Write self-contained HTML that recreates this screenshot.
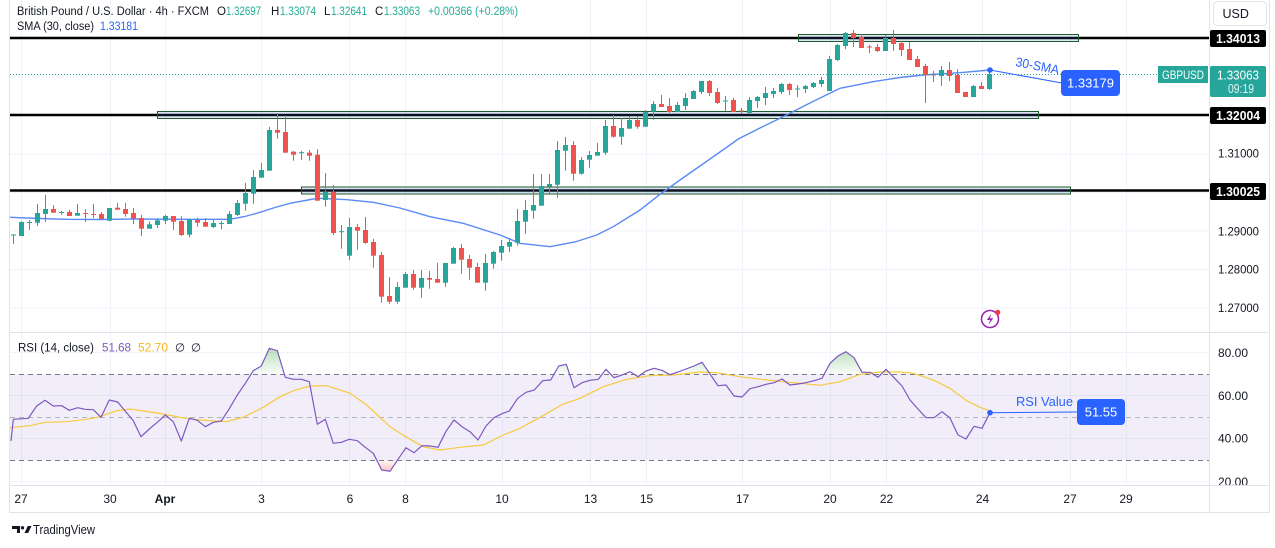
<!DOCTYPE html>
<html><head><meta charset="utf-8"><style>
html,body{margin:0;padding:0;background:#fff;overflow:hidden;}
svg{display:block;font-family:"Liberation Sans",Arial,sans-serif;}
</style></head><body>
<svg width="1275" height="548" viewBox="0 0 1275 548" xmlns="http://www.w3.org/2000/svg">
<defs>
<clipPath id="mainClip"><rect x="10" y="0" width="1199" height="332"/></clipPath>
<clipPath id="rsiClip"><rect x="10" y="333" width="1199" height="152"/></clipPath>
<clipPath id="rsiAxClip"><rect x="1210" y="333" width="60" height="152"/></clipPath>
<linearGradient id="gG" x1="0" y1="345" x2="0" y2="374" gradientUnits="userSpaceOnUse"><stop offset="0" stop-color="#4caf50" stop-opacity="0.45"/><stop offset="1" stop-color="#4caf50" stop-opacity="0.03"/></linearGradient>
<linearGradient id="gR" x1="0" y1="472" x2="0" y2="460" gradientUnits="userSpaceOnUse"><stop offset="0" stop-color="#f44336" stop-opacity="0.35"/><stop offset="1" stop-color="#f44336" stop-opacity="0.03"/></linearGradient>
</defs>
<rect width="1275" height="548" fill="#fff"/>

<!-- vertical grid -->
<g stroke="#f0f3fa" stroke-width="1">
<path d="M21.5 0V485M110.5 0V485M165.5 0V485M261.5 0V485M349.5 0V485M405.5 0V485M502.5 0V485M590.5 0V485M646.5 0V485M742.5 0V485M830.5 0V485M886.5 0V485M982.5 0V485M1070.5 0V485M1126.5 0V485"/>
<path d="M10 38.5H1209M10 77H1209M10 115.5H1209M10 154H1209M10 192.5H1209M10 231H1209M10 269.5H1209M10 308H1209"/>
<path d="M10 352.5H1209M10 395.5H1209M10 438.5H1209M10 481.5H1209"/>
</g>

<!-- main pane -->
<g clip-path="url(#mainClip)">
<!-- black horizontal levels -->
<g stroke="#000" stroke-width="2.4">
<path d="M10 38H1209M10 115H1209M10 190.5H1209"/>
</g>
<!-- zones -->
<g fill="rgba(66,110,200,0.17)" stroke="#1e5b2a" stroke-width="1">
<rect x="798.5" y="34.5" width="280" height="7"/>
<rect x="157.5" y="111.5" width="881" height="7"/>
<rect x="301.5" y="187" width="769" height="7"/>
</g>
<!-- SMA -->
<polyline fill="none" stroke="#5a8af5" stroke-width="1.4" points="10,217.3 40,218.5 66.7,219.3 100,219.5 133.3,219 180,219.3 230,219.3 245,216.5 260,212.3 275,207.5 290,203.3 313.3,199 320,198.3 347,199.7 373.3,202.3 400,208 430,216.7 463.3,223.3 500,235 520,243.3 550,246.7 575,242 596.7,235 613.3,226.7 640,210 660,194.3 680,180 700,166 720,152 738.3,139 760,128 780,118.3 810,103 840,88.3 873,81.7 900,77.5 923,75 960,72.7 990,70"/>

<!-- green candles -->
<g fill="#26a69a" stroke="none">
<path stroke="#26a69a" stroke-width="1" fill="none" d="M13.5 234.3V244M21.5 221.3V236M29.5 220V230M37.5 204V226M45.5 195V222M61.5 210.7V214.7M77.5 204V215.7M109.5 208V221.3M149.5 221.3V228.7M157.5 218.3V228M165.5 215V224M189.5 218.7V237.3M213.5 219V228M221.5 221.3V229.3M229.5 211V224M237.5 200V216M245.5 183V210.7M253.5 170V203.7M261.5 163V177.7M269.5 127V170.7M301.5 151V160M325.5 173V206.7M341.5 225V248.7M349.5 218V260M397.5 282V303.7M405.5 272V287.7M421.5 270V297.7M445.5 263V286.7M453.5 247V263.7M485.5 254V290.7M493.5 251V268.7M501.5 240V260.7M509.5 239V252M517.5 209V245.7M525.5 200V233.7M533.5 174V218.7M541.5 174V205.7M549.5 174V193.7M557.5 141V197.7M565.5 137V170.7M581.5 157V174.7M589.5 151V167.7M597.5 143V155.7M605.5 120V154.7M621.5 118V144.7M629.5 116V128.7M645.5 110V126.7M653.5 101V120M677.5 102V112M685.5 93V110M693.5 90V99M701.5 81V94M725.5 96V111M749.5 97V114M757.5 96V108M765.5 87V105M773.5 88V98M781.5 83V94M797.5 85V97M805.5 85V93M813.5 82V88M821.5 77V87M829.5 56V91M837.5 44V61M845.5 32V49M885.5 35V51M941.5 66V86M973.5 85V97M989.5 70V90"/>
<rect x="11" y="234.5" width="5" height="1"/>
<rect x="19" y="222" width="5" height="14"/>
<rect x="27" y="222" width="5" height="1"/>
<rect x="35" y="213" width="5" height="9.7"/>
<rect x="43" y="209" width="5" height="5"/>
<rect x="59" y="212" width="5" height="1"/>
<rect x="75" y="213" width="5" height="2.7"/>
<rect x="107" y="208" width="5" height="12.7"/>
<rect x="147" y="224.3" width="5" height="4.4"/>
<rect x="155" y="220.3" width="5" height="4.7"/>
<rect x="163" y="216" width="5" height="4.7"/>
<rect x="187" y="219.3" width="5" height="15.4"/>
<rect x="211" y="223" width="5" height="4"/>
<rect x="219" y="223" width="5" height="1"/>
<rect x="227" y="214" width="5" height="10"/>
<rect x="235" y="203" width="5" height="12"/>
<rect x="243" y="193" width="5" height="10.7"/>
<rect x="251" y="177" width="5" height="16.7"/>
<rect x="259" y="170" width="5" height="7.7"/>
<rect x="267" y="130" width="5" height="40.7"/>
<rect x="299" y="152.2" width="5" height="1"/>
<rect x="323" y="192" width="5" height="8"/>
<rect x="339" y="231.2" width="5" height="1"/>
<rect x="347" y="227" width="5" height="28.7"/>
<rect x="395" y="287" width="5" height="14.7"/>
<rect x="403" y="274" width="5" height="13.7"/>
<rect x="419" y="278" width="5" height="9.7"/>
<rect x="443" y="263" width="5" height="19.7"/>
<rect x="451" y="248" width="5" height="15.7"/>
<rect x="483" y="263" width="5" height="19.7"/>
<rect x="491" y="252" width="5" height="11.7"/>
<rect x="499" y="246" width="5" height="6.7"/>
<rect x="507" y="242" width="5" height="4.7"/>
<rect x="515" y="221" width="5" height="21.7"/>
<rect x="523" y="210" width="5" height="11.7"/>
<rect x="531" y="205" width="5" height="5.7"/>
<rect x="539" y="186" width="5" height="19.7"/>
<rect x="547" y="184" width="5" height="2.7"/>
<rect x="555" y="150" width="5" height="34.7"/>
<rect x="563" y="145" width="5" height="5.7"/>
<rect x="579" y="160" width="5" height="13.7"/>
<rect x="587" y="155" width="5" height="4.7"/>
<rect x="595" y="152" width="5" height="3.7"/>
<rect x="603" y="126" width="5" height="26.7"/>
<rect x="619" y="128" width="5" height="8.7"/>
<rect x="627" y="120" width="5" height="8.7"/>
<rect x="643" y="112" width="5" height="14.7"/>
<rect x="651" y="104" width="5" height="7.7"/>
<rect x="675" y="105" width="5" height="7"/>
<rect x="683" y="98" width="5" height="8"/>
<rect x="691" y="91" width="5" height="8"/>
<rect x="699" y="81" width="5" height="11"/>
<rect x="723" y="100.5" width="5" height="1"/>
<rect x="747" y="100" width="5" height="13"/>
<rect x="755" y="97" width="5" height="4"/>
<rect x="763" y="93" width="5" height="5"/>
<rect x="771" y="91" width="5" height="3"/>
<rect x="779" y="84" width="5" height="8"/>
<rect x="795" y="88.5" width="5" height="1"/>
<rect x="803" y="86" width="5" height="3"/>
<rect x="811" y="83" width="5" height="4"/>
<rect x="819" y="80" width="5" height="4"/>
<rect x="827" y="59" width="5" height="32"/>
<rect x="835" y="45" width="5" height="15"/>
<rect x="843" y="33" width="5" height="13"/>
<rect x="883" y="38" width="5" height="13"/>
<rect x="939" y="70" width="5" height="6"/>
<rect x="971" y="86" width="5" height="11"/>
<rect x="987" y="74" width="5" height="15"/>
</g>

<!-- red candles -->
<g fill="#ef5350" stroke="none">
<path stroke="#ef5350" stroke-width="1" fill="none" d="M53.5 205V212.7M69.5 210V216M85.5 209.3V222M93.5 204V218.3M101.5 212V219M117.5 203V209.7M125.5 203V216.7M133.5 208V224M141.5 215V236M173.5 216V230M181.5 216.3V236M197.5 217.7V226.7M205.5 218V226.7M277.5 113V138.7M285.5 117V152.7M293.5 151V160.7M309.5 150V160.7M317.5 149V200.7M333.5 185V235M357.5 224V249.7M365.5 217V243.7M373.5 239V267.7M381.5 251.7V302.7M389.5 277V303.7M413.5 270V289.7M429.5 271V288.7M437.5 262.7V282.7M461.5 244V273.7M469.5 255V279.7M477.5 263V282.7M573.5 141V180.7M613.5 115V137.7M637.5 116V128.7M661.5 95V107M669.5 98V113M709.5 80V96M717.5 88V104M733.5 98V112M741.5 108V114M789.5 83V95M853.5 30V47M861.5 34V48M869.5 45V53M877.5 44V52M893.5 30V51M901.5 41V56M909.5 42V60M917.5 56V67M925.5 64V103M933.5 71V82M949.5 62V81M957.5 69V93M965.5 92V97M981.5 82V89"/>
<rect x="51" y="209" width="5" height="3.7"/>
<rect x="67" y="212" width="5" height="4"/>
<rect x="83" y="213" width="5" height="1"/>
<rect x="91" y="214" width="5" height="1"/>
<rect x="99" y="214" width="5" height="5"/>
<rect x="115" y="207.7" width="5" height="2"/>
<rect x="123" y="209" width="5" height="5"/>
<rect x="131" y="213" width="5" height="5.7"/>
<rect x="139" y="218" width="5" height="10.7"/>
<rect x="171" y="216" width="5" height="5.7"/>
<rect x="179" y="221" width="5" height="14"/>
<rect x="195" y="220" width="5" height="2.7"/>
<rect x="203" y="222" width="5" height="4.7"/>
<rect x="275" y="130" width="5" height="2.7"/>
<rect x="283" y="132" width="5" height="20.7"/>
<rect x="291" y="151.7" width="5" height="3"/>
<rect x="307" y="152.7" width="5" height="3"/>
<rect x="315" y="154.7" width="5" height="46"/>
<rect x="331" y="191.7" width="5" height="41.3"/>
<rect x="355" y="227" width="5" height="3.7"/>
<rect x="363" y="230" width="5" height="13"/>
<rect x="371" y="242" width="5" height="13.7"/>
<rect x="379" y="255" width="5" height="41.7"/>
<rect x="387" y="296" width="5" height="5.7"/>
<rect x="411" y="274" width="5" height="13.7"/>
<rect x="427" y="278" width="5" height="1.7"/>
<rect x="435" y="279" width="5" height="3.7"/>
<rect x="459" y="248" width="5" height="11.7"/>
<rect x="467" y="259" width="5" height="8.7"/>
<rect x="475" y="267" width="5" height="15.7"/>
<rect x="571" y="145" width="5" height="28.7"/>
<rect x="611" y="126" width="5" height="10.7"/>
<rect x="635" y="120" width="5" height="6.7"/>
<rect x="659" y="104" width="5" height="3"/>
<rect x="667" y="106" width="5" height="6"/>
<rect x="707" y="81" width="5" height="12"/>
<rect x="715" y="92" width="5" height="11"/>
<rect x="731" y="100" width="5" height="12"/>
<rect x="739" y="110.5" width="5" height="1"/>
<rect x="787" y="84" width="5" height="6"/>
<rect x="851" y="33" width="5" height="5"/>
<rect x="859" y="37" width="5" height="11"/>
<rect x="867" y="46.5" width="5" height="1"/>
<rect x="875" y="47" width="5" height="4"/>
<rect x="891" y="38" width="5" height="6"/>
<rect x="899" y="43" width="5" height="7"/>
<rect x="907" y="49" width="5" height="11"/>
<rect x="915" y="59" width="5" height="8"/>
<rect x="923" y="66" width="5" height="9"/>
<rect x="931" y="74.5" width="5" height="1"/>
<rect x="947" y="70" width="5" height="6"/>
<rect x="955" y="75" width="5" height="18"/>
<rect x="963" y="92" width="5" height="5"/>
<rect x="979" y="86" width="5" height="3"/>
</g>

<!-- current price dotted line -->
<path d="M10 74.5H1158" stroke="#26a69a" stroke-width="1" stroke-dasharray="1 2"/>

<!-- SMA annotation -->
<circle cx="990" cy="70" r="2.8" fill="#2962ff"/>
<path d="M990 70L1062 83" stroke="#2962ff" stroke-width="1"/>
<text x="1015" y="66" font-size="13" fill="#2962ff" transform="rotate(11 1015 66)" textLength="44" lengthAdjust="spacingAndGlyphs">30-SMA</text>
<rect x="1061" y="70" width="59" height="26" rx="4" fill="#2962ff"/>
<text x="1090.5" y="87.5" font-size="13" fill="#fff" text-anchor="middle">1.33179</text>
<rect x="1158" y="66" width="50" height="17" fill="#26a69a"/>
<text x="1183" y="79" font-size="12" fill="#fff" text-anchor="middle" textLength="42" lengthAdjust="spacingAndGlyphs">GBPUSD</text>

<!-- lightning icon -->
<circle cx="990" cy="319" r="8.5" fill="#fff" stroke="#9c27b0" stroke-width="1.6"/>
<path d="M991.5 313.5L986.8 320H990.2L988.5 324.8L993.3 318.2H989.9Z" fill="#9c27b0"/>
<circle cx="997.7" cy="312.3" r="2.6" fill="#f23645"/>
</g>

<!-- RSI pane -->
<g clip-path="url(#rsiClip)">
<rect x="10" y="374" width="1199" height="86.5" fill="#7e57c2" fill-opacity="0.1"/>
<path d="M10 374.5H1209M10 460.5H1209" stroke="#787b86" stroke-width="1" stroke-dasharray="5 4"/>
<path d="M10 417.5H1209" stroke="#b2b5be" stroke-width="1" stroke-dasharray="5 4"/>
<g fill="url(#gG)">
<polygon points="249,374 253.3,370.7 261.3,366 269.3,348.3 277.3,350.7 284,374"/>
<polygon points="555,374 558.7,366 566.3,364.3 570,374"/>
<polygon points="604,374 606,369.3 610,374"/>
<polygon points="651,374 654,368.3 662,370.3 668,374"/>
<polygon points="683,374 686,369 694,366 702,362.3 710,374"/>
<polygon points="827,374 830,363.3 838,356 846,351.7 854,357.7 862,372.3 870,372.3 872,374"/>
<polygon points="882,374 886,369.3 890,374"/>
</g>
<polygon fill="url(#gR)" points="378,460 381.7,470 390,471.3 396,460"/>
<polyline fill="none" stroke="#f7c93e" stroke-width="1.2" points="10,427.7 30,425.7 45,422.3 66.7,421.7 86.7,419.3 100,416.7 116.7,410.7 130,409 143.3,411 163.3,414 180,417.3 200,420 226.7,421.7 243.3,417.3 263.3,407.3 280,396.7 293.3,390.7 310,386 326.7,385.7 350,393.3 366.7,405 390,426.7 406.7,437.3 423.3,446.7 440,450 460,447.3 483.3,445 503.3,435 520,428.3 540,417.3 563.3,404 580,398.3 603.3,386.7 626.7,379.3 650,375.7 673.3,375 700,372 716.7,372.7 740,376.7 766.7,380 793.3,382.7 820,385.3 840,381.7 860,374.3 880,372 900,372 913.3,373.3 933.3,380 950,388.3 966.7,400.7 980,407.3 989.3,410.7"/>
<polyline fill="none" stroke="#7e57c2" stroke-width="1.2" stroke-linejoin="round" points="11,441 13.3,419.3 28.3,418.3 36.7,406 45,400.3 53.3,406 61.7,405.7 69.3,410.3 77.7,407.7 85,409.3 93.3,409.7 101,417.3 109.3,400 117.7,402 125.7,411.7 133.3,420.7 141,436.7 149.3,429 157.3,422.3 165.3,415 173.3,421.7 181.3,441 189.3,418.3 197.3,420.3 205.3,426.7 213.3,422.3 221.3,421 229.3,408.7 237.3,395 245.3,383.3 253.3,370.7 261.3,366 269.3,348.3 277.3,350.7 285.3,377.3 293.3,379.3 301.3,379.3 309.3,381.7 317.3,424.3 325.3,419.3 333.3,443.3 341.3,442.3 349.3,439.3 357.3,440.7 365.3,447.3 373.3,453.3 381.7,470 390,471.3 398,459.3 406,447.7 414,452.7 422,445.7 430,446 438,447.3 446,431.3 454,420 462,426.7 470,431.7 478,440 486,426 494,417.7 502,413.7 509.3,411 517.7,398.3 526,392.3 534.3,390 542.7,380.7 550.7,380 558.7,366 566.3,364.3 574,387.7 582,382.7 590,380.3 598.3,379.3 606,369.3 614,377.7 622,375 630,371.7 638,376.7 646,371 654,368.3 662,370.3 670,374.7 678,372 686,369 694,366 702,362.3 710,374 718,385.7 726,385 734,396 742,397 750,388.7 758,386.7 766,384.3 774,382.7 782,379 790,385 798,384 806,382.7 814,380.7 822,378.3 830,363.3 838,356 846,351.7 854,357.7 862,372.3 870,372.3 878,377.3 886,369.3 894,377.7 902,386 910,400 918,409 926,417.7 934,417.7 942,411.7 950,418 958,435 966,439 974,426.3 982,428.3 990,412.7"/>
<circle cx="990" cy="412.7" r="2.8" fill="#2962ff"/>
<path d="M990 412.7L1077 412" stroke="#2962ff" stroke-width="1"/>
<text x="1016" y="406" font-size="13" fill="#2962ff" textLength="57" lengthAdjust="spacingAndGlyphs">RSI Value</text>
<rect x="1077" y="399" width="48" height="26" rx="4" fill="#2962ff"/>
<text x="1101" y="416.5" font-size="13" fill="#fff" text-anchor="middle">51.55</text>
</g>

<!-- borders -->
<g stroke="#e0e3eb" stroke-width="1" fill="none">
<path d="M9.5 0V512.5H1269.5V0"/>
<path d="M1209.5 0V512"/>
<path d="M10 332.5H1269"/>
<path d="M10 485.5H1269"/>
</g>

<!-- header -->
<g font-size="11.5" fill="#131722">
<text x="17" y="15" textLength="192" lengthAdjust="spacingAndGlyphs">British Pound / U.S. Dollar · 4h · FXCM</text>
<text x="217" y="15">O</text><text x="226" y="15" fill="#22ab94" textLength="35" lengthAdjust="spacingAndGlyphs">1.32697</text>
<text x="271" y="15">H</text><text x="280" y="15" fill="#22ab94" textLength="36" lengthAdjust="spacingAndGlyphs">1.33074</text>
<text x="324" y="15">L</text><text x="331" y="15" fill="#22ab94" textLength="36" lengthAdjust="spacingAndGlyphs">1.32641</text>
<text x="375" y="15">C</text><text x="384" y="15" fill="#22ab94" textLength="36" lengthAdjust="spacingAndGlyphs">1.33063</text>
<text x="428" y="15" fill="#22ab94" textLength="90" lengthAdjust="spacingAndGlyphs">+0.00366 (+0.28%)</text>
<text x="17" y="30" textLength="77" lengthAdjust="spacingAndGlyphs">SMA (30, close)</text>
<text x="100" y="30" fill="#2962ff" textLength="38" lengthAdjust="spacingAndGlyphs">1.33181</text>
<text x="18" y="351.5" textLength="76" lengthAdjust="spacingAndGlyphs">RSI (14, close)</text>
<text x="102" y="351.5" fill="#7e57c2" textLength="29" lengthAdjust="spacingAndGlyphs">51.68</text>
<text x="138" y="351.5" fill="#f5b81c" textLength="30" lengthAdjust="spacingAndGlyphs">52.70</text>
<text x="175" y="351.5">∅</text>
<text x="191" y="351.5">∅</text>
</g>

<!-- USD button -->
<rect x="1213.5" y="1.5" width="53" height="24" rx="4" fill="#fff" stroke="#e0e3eb"/>
<text x="1222.5" y="18" font-size="12.5" fill="#131722">USD</text>

<!-- price axis -->
<g font-size="12" fill="#131722">
<text x="1218" y="157.5" textLength="41" lengthAdjust="spacingAndGlyphs">1.31000</text>
<text x="1218" y="235.5" textLength="41" lengthAdjust="spacingAndGlyphs">1.29000</text>
<text x="1218" y="273.5" textLength="41" lengthAdjust="spacingAndGlyphs">1.28000</text>
<text x="1218" y="312" textLength="41" lengthAdjust="spacingAndGlyphs">1.27000</text>
</g>
<g clip-path="url(#rsiAxClip)" font-size="12" fill="#131722">
<text x="1218" y="357" textLength="30" lengthAdjust="spacingAndGlyphs">80.00</text>
<text x="1218" y="400" textLength="30" lengthAdjust="spacingAndGlyphs">60.00</text>
<text x="1218" y="442.5" textLength="30" lengthAdjust="spacingAndGlyphs">40.00</text>
<text x="1218" y="486" textLength="30" lengthAdjust="spacingAndGlyphs">20.00</text>
</g>
<rect x="1210" y="30" width="56" height="17" rx="2" fill="#000"/>
<text x="1238" y="43" font-size="12.5" font-weight="bold" fill="#fff" text-anchor="middle" textLength="44" lengthAdjust="spacingAndGlyphs">1.34013</text>
<rect x="1210" y="107" width="56" height="17" rx="2" fill="#000"/>
<text x="1238" y="120" font-size="12.5" font-weight="bold" fill="#fff" text-anchor="middle" textLength="44" lengthAdjust="spacingAndGlyphs">1.32004</text>
<rect x="1210" y="183" width="56" height="17" rx="2" fill="#000"/>
<text x="1238" y="196" font-size="12.5" font-weight="bold" fill="#fff" text-anchor="middle" textLength="44" lengthAdjust="spacingAndGlyphs">1.30025</text>
<rect x="1210" y="66" width="56" height="31" rx="2" fill="#26a69a"/>
<text x="1238" y="79.5" font-size="12.5" fill="#fff" text-anchor="middle" textLength="42" lengthAdjust="spacingAndGlyphs">1.33063</text>
<text x="1228" y="93" font-size="12.5" fill="#e6f5f3" textLength="26" lengthAdjust="spacingAndGlyphs">09:19</text>

<!-- time axis -->
<g font-size="12" fill="#131722" text-anchor="middle">
<text x="21" y="503">27</text>
<text x="110" y="503">30</text>
<text x="165" y="503" font-weight="bold">Apr</text>
<text x="261.5" y="503">3</text>
<text x="350" y="503">6</text>
<text x="405.5" y="503">8</text>
<text x="502" y="503">10</text>
<text x="590.5" y="503">13</text>
<text x="646.5" y="503">15</text>
<text x="742.5" y="503">17</text>
<text x="830" y="503">20</text>
<text x="886.5" y="503">22</text>
<text x="982.5" y="503">24</text>
<text x="1070" y="503">27</text>
<text x="1126" y="503">29</text>
</g>

<!-- TradingView logo -->
<g fill="#131722">
<path d="M12 526H20V533H17V529H12Z"/>
<circle cx="22.5" cy="527.8" r="1.7"/>
<path d="M24.5 533L27.8 526H31.5L28.2 533Z"/>
<text x="33" y="534" font-size="13" textLength="62" lengthAdjust="spacingAndGlyphs">TradingView</text>
</g>
</svg>
</body></html>
